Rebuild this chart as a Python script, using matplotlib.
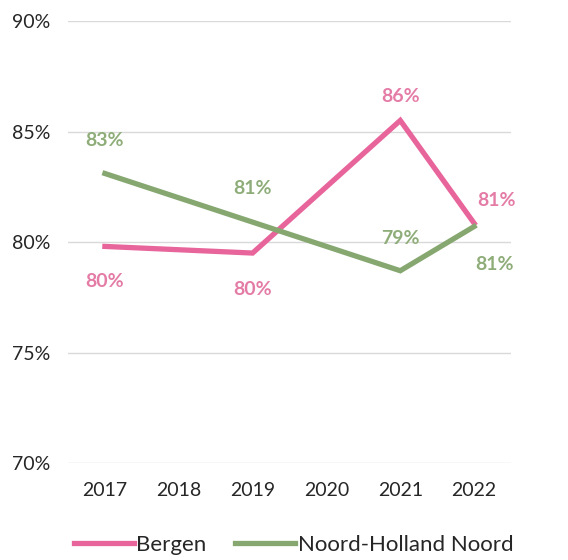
import matplotlib
matplotlib.use("Agg")
import matplotlib.pyplot as plt

years = ["2017", "2018", "2019", "2020", "2021", "2022"]

# measured years only (2018 and 2020 have no data)
bergen_idx = [0, 2, 4, 5]
bergen = [79.8, 79.5, 85.5, 80.85]
bergen_labels = ["80%", "80%", "86%", "81%"]

nhn_idx = [0, 2, 4, 5]
nhn = [83.1, 80.9, 78.7, 80.7]
nhn_labels = ["83%", "81%", "79%", "81%"]

yticks = [70, 75, 80, 85, 90]

PINK = "#E8659B"
PINK_TXT = "#E47CA6"
GREEN = "#86A870"
GREEN_TXT = "#8EAD79"
TXT = "#262626"

plt.rcParams["font.family"] = ["Lato", "DejaVu Sans"]

fig = plt.figure(figsize=(5.68, 5.60), dpi=100)
ax = fig.add_axes([0.1197, 0.1732, 0.7800, 0.7893])

ax.plot(bergen_idx, bergen, color=PINK, lw=3.8, solid_joinstyle="miter", label="Bergen")
ax.plot(nhn_idx, nhn, color=GREEN, lw=3.8, solid_joinstyle="miter", label="Noord-Holland Noord")

# label offsets in points (dx, dy)
bergen_off = [(0, -25), (0, -26), (0, 17), (16, 16)]
nhn_off = [(0, 24), (0, 24), (0, 23), (15, -27)]

for i, v, lab, off in zip(bergen_idx, bergen, bergen_labels, bergen_off):
    ax.annotate(lab, (i, v), xytext=off, textcoords="offset points",
                ha="center", va="center", color=PINK_TXT, fontsize=14, fontweight="bold")
for i, v, lab, off in zip(nhn_idx, nhn, nhn_labels, nhn_off):
    ax.annotate(lab, (i, v), xytext=off, textcoords="offset points",
                ha="center", va="center", color=GREEN_TXT, fontsize=14, fontweight="bold")

ax.set_xlim(-0.5, len(years) - 0.5)
ax.set_ylim(70, 90)
ax.set_xticks(range(len(years)))
ax.set_xticklabels(years)
ax.set_yticks(yticks)
ax.set_yticklabels([f"{t}%" for t in yticks])
ax.tick_params(axis="both", length=0, labelsize=14, colors=TXT)
ax.tick_params(axis="x", pad=14)
ax.tick_params(axis="y", pad=13)

ax.grid(axis="y", color="#D9D9D9", lw=1.0)
ax.set_axisbelow(True)
for s in ax.spines.values():
    s.set_visible(False)

leg = fig.legend(loc="center", bbox_to_anchor=(0.517, 0.027), ncol=2, frameon=False,
                 fontsize=16, handlelength=2.7, handletextpad=0.1, columnspacing=1.3)
for t in leg.get_texts():
    t.set_color(TXT)

fig.savefig("out.png", dpi=100)
